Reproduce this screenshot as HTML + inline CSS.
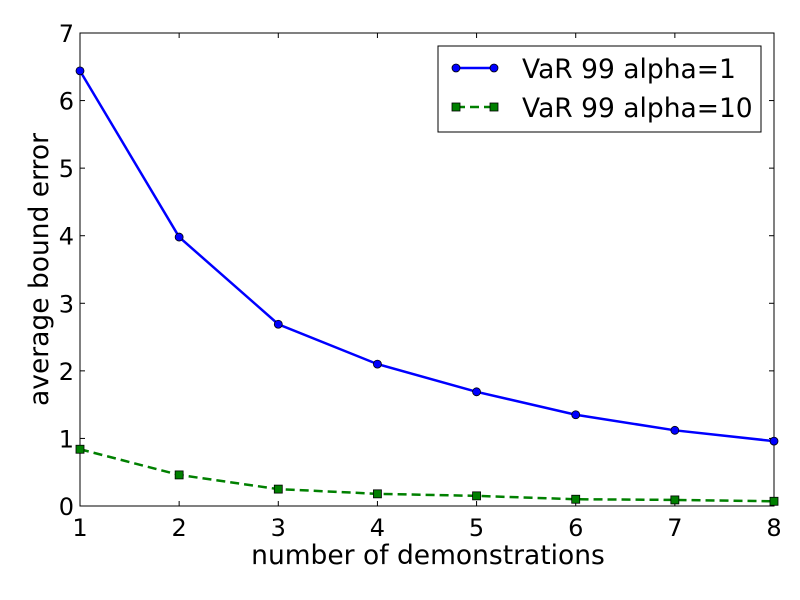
<!DOCTYPE html>
<html><head><meta charset="utf-8"><style>
body{margin:0;background:#fff}
svg{display:block;font-family:"DejaVu Sans","Liberation Sans",sans-serif}
</style></head><body>
<svg id="chart" width="800" height="600"></svg>
<script>
const categories=[1,2,3,4,5,6,7,8];
const seriesAlpha1=[6.44,3.98,2.69,2.10,1.69,1.35,1.12,0.96];
const seriesAlpha10=[0.84,0.46,0.25,0.18,0.15,0.10,0.09,0.07];
const xTicks=[1,2,3,4,5,6,7,8];
const yTicks=[0,1,2,3,4,5,6,7];
const NS="http://www.w3.org/2000/svg";
const svg=document.getElementById('chart');
const L=80,R=774,T=33,B=506;
const xs=v=>L+(v-1)/7*(R-L);
const ys=v=>B-v/7*(B-T);
function mk(t,a,p){const e=document.createElementNS(NS,t);for(const k in a)e.setAttribute(k,a[k]);(p||svg).appendChild(e);return e;}
const box=mk('rect',{x:L,y:T,width:R-L,height:B-T,fill:'none',stroke:'#000','stroke-width':1});


xTicks.forEach(v=>{
  const x=xs(v);
  mk('line',{x1:x,y1:B,x2:x,y2:B-5,stroke:'#000'});
  mk('line',{x1:x,y1:T,x2:x,y2:T+5,stroke:'#000'});
  const t=mk('text',{x:x,y:B+30,'font-size':24,'text-anchor':'middle'});t.textContent=v;
  
  
});
yTicks.forEach(v=>{
  const y=ys(v);
  mk('line',{x1:L,y1:y,x2:L+5,y2:y,stroke:'#000'});
  mk('line',{x1:R,y1:y,x2:R-5,y2:y,stroke:'#000'});
  const t=mk('text',{x:L-6,y:y+9,'font-size':24,'text-anchor':'end'});t.textContent=v;
  
  
});
const xl=mk('text',{x:(L+R)/2+1,y:564,'font-size':26.5,'text-anchor':'middle'});xl.textContent='number of demonstrations';


const yl=mk('text',{x:0,y:0,'font-size':26.5,'text-anchor':'middle',transform:`translate(48,${(T+B)/2}) rotate(-90)`});yl.textContent='average bound error';


const p1=mk('polyline',{points:categories.map((c,i)=>xs(c)+','+ys(seriesAlpha1[i])).join(' '),fill:'none',stroke:'#0000ff','stroke-width':2.5});


categories.forEach((c,i)=>{
  const m=mk('circle',{cx:xs(c),cy:ys(seriesAlpha1[i]),r:4,fill:'#0000ff',stroke:'#000','stroke-width':0.8});
  
  
});
const p2=mk('polyline',{points:categories.map((c,i)=>xs(c)+','+ys(seriesAlpha10[i])).join(' '),fill:'none',stroke:'#008000','stroke-width':2.5,'stroke-dasharray':'9,5'});


categories.forEach((c,i)=>{
  const m=mk('rect',{x:xs(c)-4,y:ys(seriesAlpha10[i])-4,width:8,height:8,fill:'#008000',stroke:'#000','stroke-width':0.8});
  
  
});
const lg=mk('g',{});


mk('rect',{x:438,y:46,width:323,height:86,fill:'#fff',stroke:'#000'},lg);
const e1=mk('g',{},lg);


mk('line',{x1:456,y1:68,x2:494,y2:68,stroke:'#0000ff','stroke-width':2.5},e1);
mk('circle',{cx:456,cy:68,r:4,fill:'#0000ff',stroke:'#000','stroke-width':0.8},e1);
mk('circle',{cx:494,cy:68,r:4,fill:'#0000ff',stroke:'#000','stroke-width':0.8},e1);
mk('text',{x:522,y:78,'font-size':26.5},e1).textContent='VaR 99 alpha=1';
const e2=mk('g',{},lg);


mk('line',{x1:456,y1:107,x2:494,y2:107,stroke:'#008000','stroke-width':2.5,'stroke-dasharray':'9,5'},e2);
mk('rect',{x:452,y:103,width:8,height:8,fill:'#008000',stroke:'#000','stroke-width':0.8},e2);
mk('rect',{x:490,y:103,width:8,height:8,fill:'#008000',stroke:'#000','stroke-width':0.8},e2);
mk('text',{x:522,y:117,'font-size':26.5},e2).textContent='VaR 99 alpha=10';
</script>
</body></html>
